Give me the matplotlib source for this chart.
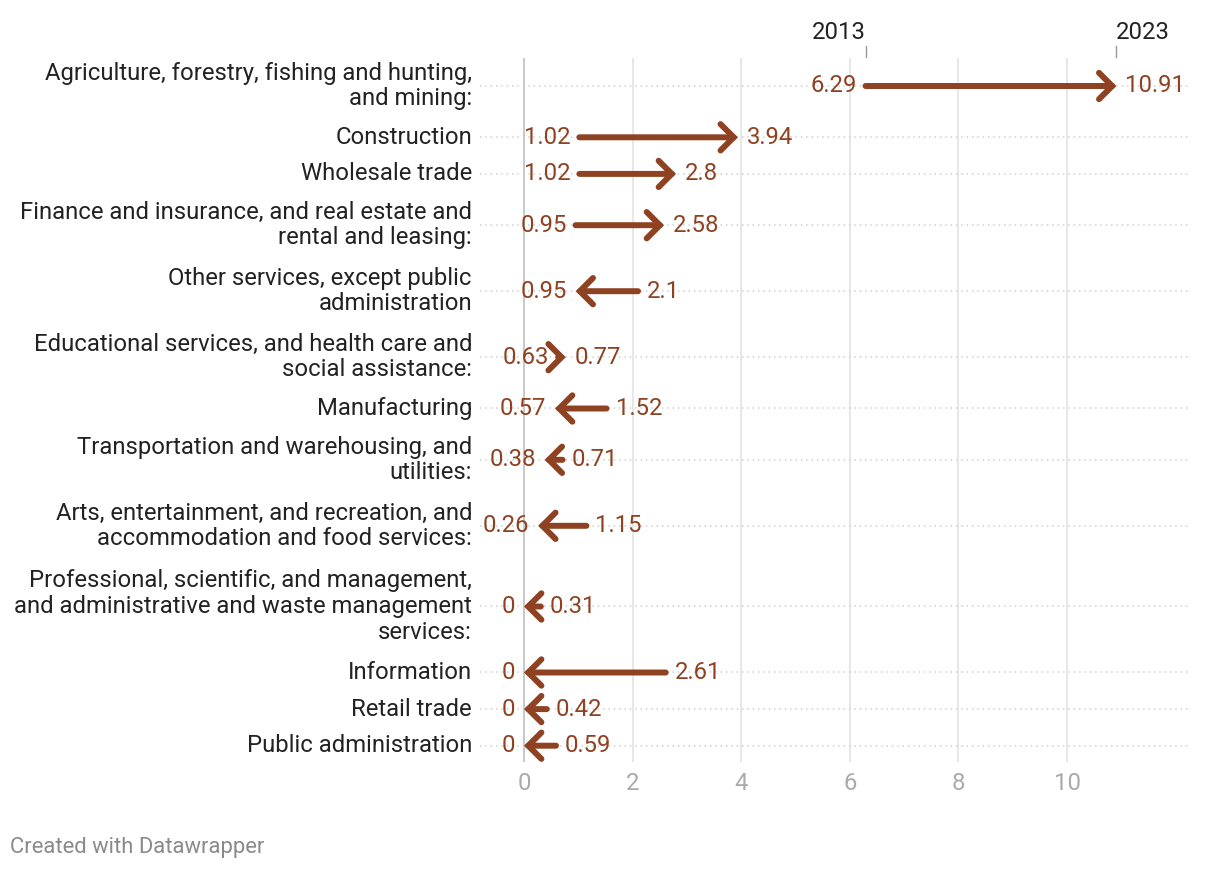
import matplotlib
matplotlib.use("Agg")
import matplotlib.pyplot as plt

plt.rcParams['font.family'] = ['Roboto', 'DejaVu Sans']

# data: industry, value in 2013, value in 2023
industries = [
    "Agriculture, forestry, fishing and hunting,\nand mining:",
    "Construction",
    "Wholesale trade",
    "Finance and insurance, and real estate and\nrental and leasing:",
    "Other services, except public\nadministration",
    "Educational services, and health care and\nsocial assistance:",
    "Manufacturing",
    "Transportation and warehousing, and\nutilities:",
    "Arts, entertainment, and recreation, and\naccommodation and food services:",
    "Professional, scientific, and management,\nand administrative and waste management\nservices:",
    "Information",
    "Retail trade",
    "Public administration",
]
v2013 = [6.29, 1.02, 1.02, 0.95, 2.1, 0.63, 1.52, 0.71, 1.15, 0.31, 2.61, 0.42, 0.59]
v2023 = [10.91, 3.94, 2.8, 2.58, 0.95, 0.77, 0.57, 0.38, 0.26, 0, 0, 0, 0]
xticks = [0, 2, 4, 6, 8, 10]

W, H = 1220, 872
fig = plt.figure(figsize=(W / 100, H / 100), dpi=100)
# axes spans pixel box x 480..1188, y 58..762
ax = fig.add_axes([480 / W, 1 - 762 / H, (1188 - 480) / W, (762 - 58) / H])
ppu = 54.3
ax.set_xlim(-44 / ppu, 664 / ppu)

# row centres in pixel units, spacing depends on number of label lines
ys = []
y = 86
prev = None
for lab in industries:
    n = lab.count("\n") + 1
    half = 3.6 + 14.7 * n
    if prev is not None:
        y += prev + half
    ys.append(y)
    prev = half
ax.set_ylim(762, 58)

col = "#8e4222"
fs = 17.2
for t in xticks:
    ax.axvline(t, color="#c8c8c8" if t == 0 else "#e3e3e3", lw=1.4 if t == 0 else 1.2, zorder=1)
    ax.text(t, 783, str(t), ha="center", va="center", fontsize=fs, color="#aaaaaa")

for lab, a, b, yy in zip(industries, v2013, v2023, ys):
    ax.plot([-44 / ppu, 664 / ppu], [yy, yy], color="#d0d0d0", lw=1.1, ls=(0, (1, 2.5)), zorder=1)
    ax.annotate("", xy=(b, yy), xytext=(a, yy),
                arrowprops=dict(arrowstyle="->,head_length=0.95,head_width=0.95",
                                color=col, lw=4.3, shrinkA=0, shrinkB=0,
                                capstyle="round", joinstyle="miter"), zorder=3)
    d = 1 if b >= a else -1
    off = 9 / ppu
    ax.text(a - d * off, yy, f"{a:g}", ha="right" if d > 0 else "left", va="center",
            fontsize=fs, color=col, zorder=4)
    ax.text(b + d * off, yy, f"{b:g}", ha="left" if d > 0 else "right", va="center",
            fontsize=fs, color=col, zorder=4)
    ax.text(-52 / ppu, yy, lab, ha="right", va="center", fontsize=fs,
            color="#222222", linespacing=1.14)

# year markers above first row
ax.plot([v2013[0], v2013[0]], [46, 57], color="#999999", lw=1, clip_on=False)
ax.plot([v2023[0], v2023[0]], [46, 57], color="#999999", lw=1, clip_on=False)
ax.text(v2013[0] + 0.01, 33, "2013", ha="right", va="center", fontsize=fs, color="#222222")
ax.text(v2023[0] - 0.01, 33, "2023", ha="left", va="center", fontsize=fs, color="#222222")

ax.axis("off")
fig.text(10 / W, 1 - 847 / H, "Created with Datawrapper", ha="left", va="center",
         fontsize=15.8, color="#8a8a8a")

fig.savefig("out.png", dpi=100)
